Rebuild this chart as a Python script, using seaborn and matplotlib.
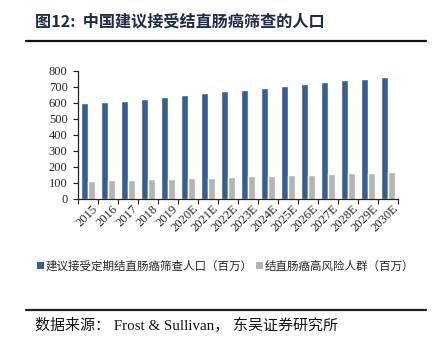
import matplotlib
matplotlib.use("Agg")
import matplotlib.pyplot as plt
import seaborn as sns
import pandas as pd
from matplotlib.lines import Line2D
from matplotlib.patches import Patch
from matplotlib.ticker import MultipleLocator, FixedLocator

years = ["2015", "2016", "2017", "2018", "2019", "2020E", "2021E", "2022E",
         "2023E", "2024E", "2025E", "2026E", "2027E", "2028E", "2029E", "2030E"]
screening = [595, 605, 612, 625, 637, 649, 658, 670, 682, 693, 705, 716, 728, 740, 751, 763]
high_risk = [111, 114, 117, 121, 124, 127, 131, 135, 139, 143, 147, 151, 155, 159, 162, 166]
series_names = ["建议接受定期结直肠癌筛查人口（百万）", "结直肠癌高风险人群（百万）"]
colors = ["#375E92", "#B4B4B4"]

sns.set_style("white")
plt.rcParams['font.family'] = ['Liberation Serif', 'Noto Sans CJK SC', 'DejaVu Sans']
cjk = ['Noto Sans CJK SC', 'DejaVu Sans']

df = pd.DataFrame({
    "year": years * 2,
    "value": screening + high_risk,
    "series": [series_names[0]] * len(years) + [series_names[1]] * len(years),
})

fig = plt.figure(figsize=(4.38, 3.45), dpi=100)
ax = fig.add_axes([78 / 438, 1 - 198.7 / 345, 320 / 438, 128 / 345])

sns.barplot(data=df, x="year", y="value", hue="series", palette=colors,
            width=0.7, ax=ax, legend=False, saturation=1)

ax.set_xlim(-0.5, len(years) - 0.5)
ax.set_ylim(0, 800)
ax.yaxis.set_major_locator(MultipleLocator(100))
ax.set_xlabel("")
ax.set_ylabel("")

for s in ["top", "right"]:
    ax.spines[s].set_visible(False)
for s in ["left", "bottom"]:
    ax.spines[s].set_color("#222222")
    ax.spines[s].set_linewidth(0.9)

ax.tick_params(axis="y", which="major", left=True, length=3.5, width=0.8,
               color="#222222", labelsize=9, pad=4)
ax.tick_params(axis="x", which="major", bottom=False, length=0, labelsize=9, pad=3)
ax.xaxis.set_minor_locator(FixedLocator([i - 0.5 for i in range(len(years) + 1)]))
ax.tick_params(axis="x", which="minor", bottom=True, length=3.5, width=0.8, color="#222222")
ax.set_xticks(range(len(years)))
ax.set_xticklabels(years, rotation=45, ha="right", rotation_mode="anchor")
for lab in ax.get_xticklabels():
    lab.set_transform(lab.get_transform() + matplotlib.transforms.ScaledTranslation(4 / 100, 0, fig.dpi_scale_trans))

handles = [Patch(facecolor=c, edgecolor="none") for c in colors]
fig.legend(handles, series_names, loc="center", bbox_to_anchor=(226 / 438, 1 - 266 / 345),
           ncol=2, frameon=False, handlelength=0.6, handleheight=0.6, handletextpad=0.15,
           columnspacing=0.3, prop={'family': cjk, 'size': 8.3})

fig.text(35 / 438, 1 - 21 / 345, "图12:  中国建议接受结直肠癌筛查的人口", family=cjk,
         fontsize=11.6, fontweight="bold", color="#1C2B4A", ha="left", va="center")
fig.add_artist(Line2D([26 / 438, 426 / 438], [1 - 40.7 / 345] * 2, color="#111111", lw=1.6))
fig.add_artist(Line2D([26 / 438, 426 / 438], [1 - 310 / 345] * 2, color="#222222", lw=1.6))
fig.text(35 / 438, 1 - 325 / 345, "数据来源： Frost & Sullivan， 东吴证券研究所",
         fontsize=10.8, color="#111111", ha="left", va="center")

fig.savefig("out.png", dpi=100)
